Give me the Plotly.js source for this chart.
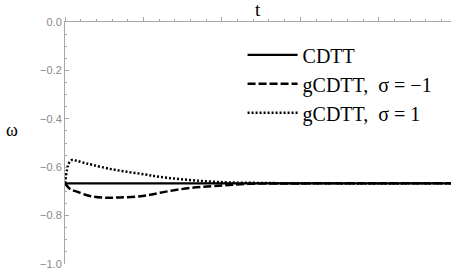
<!DOCTYPE html>
<html>
<head>
<meta charset="utf-8">
<script src="https://cdn.plot.ly/plotly-3.0.1.min.js"></script>
<style>html,body{margin:0;padding:0;background:#fff;}#chart{width:451px;height:279px;}</style>
</head>
<body>
<div id="chart"></div>
<script>
// Time (in major-tick units of the top axis)
const tCDTT = [0, 4.92];
const wCDTT = [-0.6667, -0.6667];

const tNeg = [0, 0.064, 0.153, 0.318, 0.51, 0.70, 0.99, 1.27, 1.59, 1.91, 2.32, 2.99, 4.92];
const wNeg = [-0.6667, -0.690, -0.701, -0.719, -0.726, -0.725, -0.719, -0.702, -0.686, -0.678, -0.669, -0.667, -0.6667];

const tPos = [0, 0.025, 0.05, 0.089, 0.153, 0.255, 0.357, 0.573, 0.79, 1.02, 1.21, 1.59, 1.85, 2.10, 2.48, 2.99, 4.92];
const wPos = [-0.6667, -0.612, -0.583, -0.570, -0.574, -0.583, -0.591, -0.607, -0.619, -0.630, -0.640, -0.653, -0.659, -0.663, -0.665, -0.6665, -0.6667];

const names = ["CDTT", "gCDTT,\u00a0\u00a0σ\u00a0=\u00a0\u22121", "gCDTT,\u00a0\u00a0σ\u00a0=\u00a01"];
const yTicks = [-1.0, -0.8, -0.6, -0.4, -0.2, 0.0];

const serif = "Liberation Serif, DejaVu Serif, serif";
const axisGray = "#a6a6a6";
const traces = [
  {x: tCDTT, y: wCDTT, name: names[0], mode: "lines", line: {color: "#000", width: 2.2}, legendgroup: "a"},
  {x: tNeg, y: wNeg, name: names[1], mode: "lines", line: {color: "#000", width: 2.5, dash: "8px,3px", shape: "spline"}, legendgroup: "b"},
  {x: tPos, y: wPos, name: names[2], mode: "lines", line: {color: "#000", width: 2.5, dash: "2px,2px", shape: "spline"}, legendgroup: "c"}
];

const layout = {
  width: 451, height: 279,
  margin: {l: 65, r: 0, t: 22, b: 15, pad: 0},
  paper_bgcolor: "#fff", plot_bgcolor: "#fff",
  showlegend: true,
  legend: {x: 0.46, y: 0.945, xanchor: "left", yanchor: "top", bgcolor: "rgba(0,0,0,0)",
           font: {family: serif, size: 20, color: "#000"},
           traceorder: "grouped", tracegroupgap: 0, itemwidth: 50},
  xaxis: {range: [0, 4.92], side: "top", showline: true, linecolor: axisGray, linewidth: 1,
          ticks: "outside", ticklen: 4, tickcolor: axisGray, dtick: 1, tick0: 0,
          showticklabels: false, showgrid: false, zeroline: false,
          minor: {dtick: 0.2, ticklen: 2, tickcolor: axisGray, ticks: "outside", showgrid: false}},
  yaxis: {range: [-1.0, 0.0], showline: true, linecolor: axisGray, linewidth: 1,
          ticks: "inside", ticklen: 4, tickcolor: axisGray,
          tickvals: yTicks, ticktext: yTicks.map(v => (v < 0 ? "\u2212" : "") + Math.abs(v).toFixed(1)),
          tickfont: {family: "Liberation Sans, Arial, sans-serif", size: 11, color: "#888"},
          showgrid: false, zeroline: false,
          minor: {dtick: 0.05, tick0: 0, ticklen: 2, tickcolor: axisGray, ticks: "inside", showgrid: false}},
  annotations: [
    {text: "ω", xref: "paper", yref: "paper", x: -0.137, y: 0.555, showarrow: false,
     font: {family: serif, size: 18, color: "#000"}, xanchor: "center", yanchor: "middle"},
    {text: "t", xref: "paper", yref: "paper", x: 0.5, y: 1.0, yshift: 13, showarrow: false,
     font: {family: serif, size: 19, color: "#000"}, xanchor: "center", yanchor: "middle"}
  ]
};

Plotly.newPlot("chart", traces, layout, {displayModeBar: false, staticPlot: true});
</script>
</body>
</html>
